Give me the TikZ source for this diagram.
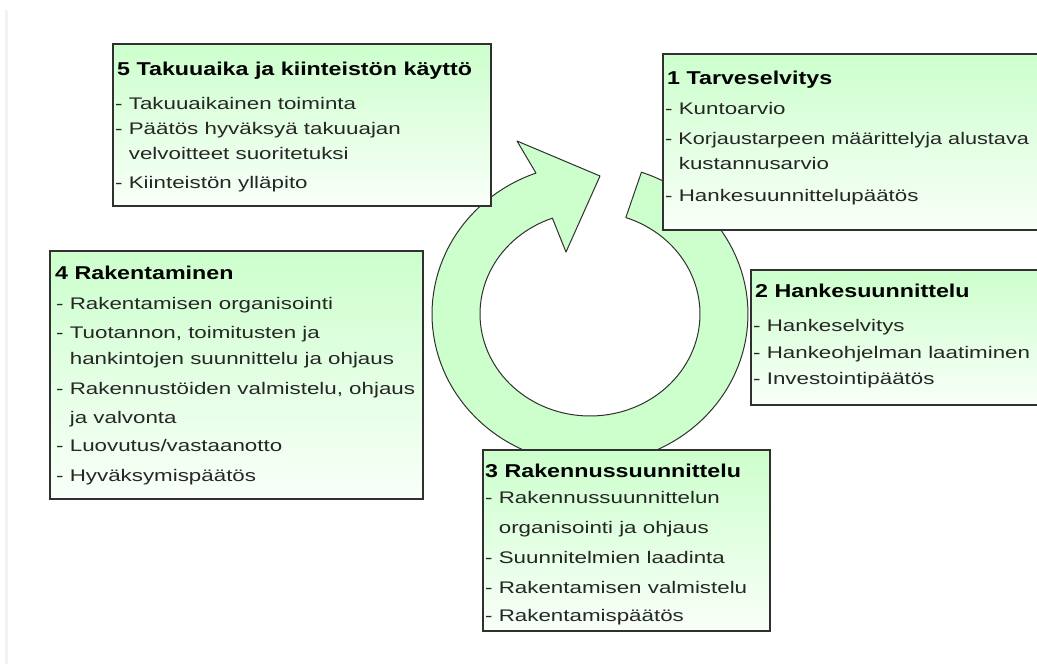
\documentclass[tikz,border=0pt]{standalone}
\usepackage{fontspec}
\newfontfamily\rfont[FakeStretch=1.33]{Liberation Sans}
\newfontfamily\rfontn[FakeStretch=1.29]{Liberation Sans}
\newfontfamily\tfont[FakeStretch=1.25]{Liberation Sans}
\definecolor{lg}{HTML}{CCFFCC}
\definecolor{edge}{HTML}{303030}
\tikzset{
  box/.style={draw=edge, line width=1.5pt, top color=lg, bottom color=lg!12!white, anchor=north west, inner sep=0pt},
  ttl/.style={anchor=base west, inner sep=0pt, font=\tfont\bfseries\fontsize{18.6}{22}\selectfont, text=black},
  itm/.style={anchor=base west, inner sep=0pt, font=\rfont\fontsize{16.8}{20}\selectfont, text=black!85},
  ring/.style={fill=lg, draw=edge, line width=1pt, line join=round}
}
\newcommand{\ind}{\phantom{- }}
\begin{document}
\begin{tikzpicture}[x=1pt,y=-1pt]
\clip (0,0) rectangle (1037,664);
\fill[white] (0,0) rectangle (1037,664);
\fill[black!5] (5,10) rectangle (8,664);
% circular arrow
\draw[ring]
  plot[domain=110:431, samples=120] ({590+158*cos(\x)}, {314-150*sin(\x)})
  -- plot[domain=431:110, samples=120] ({590+110*cos(\x)}, {314-102*sin(\x)})
  -- (566,252) -- (600,176) -- (517,141) -- cycle;
% box 5
\node[box, minimum width=378pt, minimum height=162pt] (b5) at (112,43) {};
\node[ttl] (b5t) at (117,75) {5 Takuuaika ja kiinteistön käyttö};
\node[itm] (b5a) at (115,109) {- Takuuaikainen toiminta};
\node[itm] (b5b) at (115,134) {- Päätös hyväksyä takuuajan};
\node[itm] (b5c) at (115,159) {\ind velvoitteet suoritetuksi};
\node[itm] (b5d) at (115,188) {- Kiinteistön ylläpito};
% box 1
\node[box, minimum width=390pt, minimum height=176pt] (b1) at (662,53) {};
\node[ttl] (b1t) at (667,84) {1 Tarveselvitys};
\node[itm] (b1a) at (665,114) {- Kuntoarvio};
\node[itm, font=\rfontn\fontsize{16.8}{20}\selectfont] (b1b) at (665,144) {- Korjaustarpeen määrittelyja alustava};
\node[itm] (b1c) at (665,169) {\ind kustannusarvio};
\node[itm] (b1d) at (665,201) {- Hankesuunnittelupäätös};
% box 4
\node[box, minimum width=373pt, minimum height=248pt] (b4) at (49,250) {};
\node[ttl] (b4t) at (55,279) {4 Rakentaminen};
\node[itm] (b4a) at (56,309) {- Rakentamisen organisointi};
\node[itm] (b4b) at (56,338) {- Tuotannon, toimitusten ja};
\node[itm] (b4c) at (56,364) {\ind hankintojen suunnittelu ja ohjaus};
\node[itm] (b4d) at (56,394) {- Rakennustöiden valmistelu, ohjaus};
\node[itm] (b4e) at (56,423) {\ind ja valvonta};
\node[itm] (b4f) at (56,451) {- Luovutus/vastaanotto};
\node[itm] (b4g) at (56,481) {- Hyväksymispäätös};
% box 2
\node[box, minimum width=300pt, minimum height=135pt] (b2) at (750,269) {};
\node[ttl] (b2t) at (755,297) {2 Hankesuunnittelu};
\node[itm] (b2a) at (753,331) {- Hankeselvitys};
\node[itm] (b2b) at (753,358) {- Hankeohjelman laatiminen};
\node[itm] (b2c) at (753,384) {- Investointipäätös};
% box 3
\node[box, minimum width=287pt, minimum height=181pt] (b3) at (482,449) {};
\node[ttl] (b3t) at (485,477) {3 Rakennussuunnittelu};
\node[itm] (b3a) at (485,503) {- Rakennussuunnittelun};
\node[itm] (b3b) at (485,533) {\ind organisointi ja ohjaus};
\node[itm] (b3c) at (485,563) {- Suunnitelmien laadinta};
\node[itm] (b3d) at (485,593) {- Rakentamisen valmistelu};
\node[itm] (b3e) at (485,621) {- Rakentamispäätös};
\end{tikzpicture}
\end{document}
